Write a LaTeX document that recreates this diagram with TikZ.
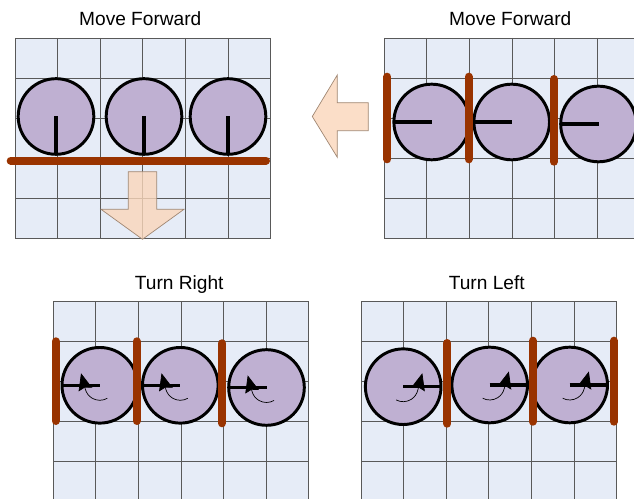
\documentclass[tikz,border=0pt]{standalone}
\usepackage{fontspec}
\setmainfont{Liberation Sans}
\usetikzlibrary{arrows.meta,positioning}

\definecolor{cellfill}{RGB}{230,236,247}
\definecolor{wheelfill}{RGB}{191,176,210}
\definecolor{barbrown}{RGB}{153,51,0}
\definecolor{arrowfill}{RGB}{250,214,186}
\definecolor{arrowedge}{RGB}{160,135,115}

\begin{document}
\begin{tikzpicture}[
  x=0.025cm, y=0.025cm,
  font=\fontsize{13.6}{16}\selectfont,
  title/.style={inner sep=0pt, anchor=base},
  gridline/.style={draw=black!65, line width=0.6pt},
  wheel/.style={draw, circle, fill=wheelfill, line width=2.1pt, minimum size=1.89cm, inner sep=0pt, outer sep=0pt},
  heading/.style={line width=2.4pt},
  bumper/.style={draw=barbrown, line width=5.7pt, line cap=round},
  bigarrow/.style={draw=arrowedge, line width=0.5pt, fill=arrowfill, fill opacity=0.8},
  turn/.style={line width=0.5pt, -{Stealth[length=12pt, width=10pt, inset=1.5pt]}},
]
\clip (0,0) rectangle (634,499);

% Grids: top-left corner and number of rows
\foreach \gx/\gy/\ny in {15/461/5, 384.3/461/5, 53.3/197.3/6, 361/197.3/6} {
  \fill[cellfill] (\gx,\gy) rectangle ++(255.6,{-40*\ny});
  \foreach \i in {0,...,6}
    \draw[gridline] ({\gx+42.6*\i},\gy) -- ++(0,{-40*\ny});
  \foreach \j in {0,...,\ny}
    \draw[gridline] (\gx,{\gy-40*\j}) -- ++(255.6,0);
}

% Titles
\node[title] (tfwd)  at (140.3,473)   {Move Forward};
\node[title] (tside) at (510.3,473)   {Move Forward};
\node[title] (trgt)  at (179.2,209.7) {Turn Right};
\node[title] (tlft)  at (486.8,209.7) {Turn Left};

% Direction arrows
\draw[bigarrow] (128.3,327.3) -- (156.7,327.3) -- (156.7,289.7) -- (184,289.7)
  -- (142.5,259.7) -- (101,289.7) -- (128.3,289.7) -- cycle;
\draw[bigarrow] (368.3,396.3) -- (337.3,396.3) -- (337.3,424) -- (312.3,382.5)
  -- (337.3,341.7) -- (337.3,368.3) -- (368.3,368.3) -- cycle;

% Wheels
\foreach \n/\x/\y in {1/56/382.5, 2/144/382.5, 3/228/382.5}
  \node[wheel] (fwd\n) at (\x,\y) {};
\foreach \n/\x/\y in {1/431.7/377, 2/511.7/377, 3/598.5/375}
  \node[wheel] (side\n) at (\x,\y) {};
\foreach \n/\x/\y in {1/99.8/113.7, 2/180.3/113.7, 3/266.5/111.5}
  \node[wheel] (rgt\n) at (\x,\y) {};
\foreach \n/\x/\y in {1/403.2/112.3, 2/489.7/114, 3/569.7/114}
  \node[wheel] (lft\n) at (\x,\y) {};

% Heading marks
\foreach \n in {1,2,3} {
  \draw[heading] (fwd\n.center) -- (fwd\n.south);
  \draw[heading] (side\n.west) -- (side\n.center);
  \draw[heading] (rgt\n.west) -- (rgt\n.center);
  \draw[heading] (lft\n.center) -- (lft\n.east);
}

% Bumpers
\draw[bumper] (10.7,338.3) -- (266,338.3);
\draw[bumper] (387.3,422.3) -- (387.3,339.7);
\draw[bumper] (468.7,422.3) -- (468.7,339.7);
\draw[bumper] (554,420) -- (554,337.3);
\draw[bumper] (55.7,157.7) -- (55.7,78);
\draw[bumper] (136.7,157.7) -- (136.7,78);
\draw[bumper] (222,155.7) -- (222,75.7);
\draw[bumper] (447.3,156) -- (447.3,75.3);
\draw[bumper] (532.7,158.3) -- (532.7,77.3);
\draw[bumper] (614,158.3) -- (614,77.3);

% Turning arcs
\foreach \n in {1,2,3} {
  \draw[turn] (rgt\n.center) ++(-60:15) arc[start angle=-60, end angle=-165, radius=15] -- ++(105:16.5);
  \draw[turn] (lft\n.center) ++(-118:15) arc[start angle=-118, end angle=-13, radius=15] -- ++(75:17.5);
}
\end{tikzpicture}
\end{document}
